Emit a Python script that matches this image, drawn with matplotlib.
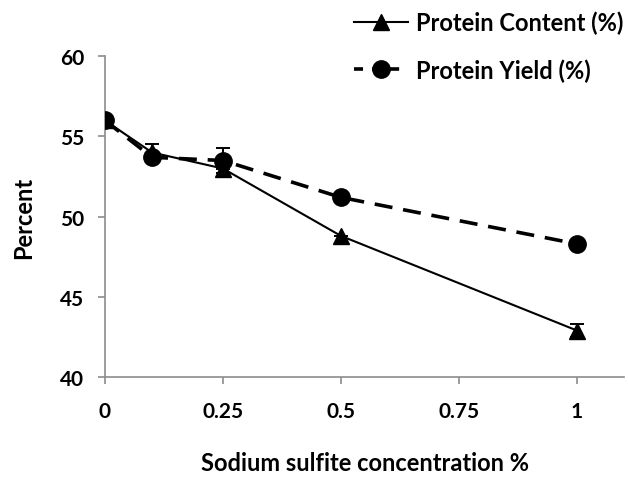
import matplotlib
matplotlib.use("Agg")
import matplotlib.pyplot as plt
from matplotlib.lines import Line2D

plt.rcParams['font.family'] = ['Lato', 'DejaVu Sans']

conc = [0, 0.1, 0.25, 0.5, 1.0]
protein_content = [56.0, 54.0, 53.0, 48.8, 42.9]
content_err = [0.0, 0.5, 0.0, 0.0, 0.4]
protein_yield = [56.0, 53.7, 53.5, 51.2, 48.3]
yield_err = [0.0, 0.0, 0.8, 0.0, 0.0]
x_ticks = [0, 0.25, 0.5, 0.75, 1]
x_tick_labels = ['0', '0.25', '0.5', '0.75', '1']
y_ticks = [40, 45, 50, 55, 60]

dash = (0, (5, 3))

fig = plt.figure(figsize=(6.28, 4.81), dpi=100)
ax = fig.add_axes([0.167, 0.214, 0.827, 0.667])

ax.errorbar(conc, protein_content, yerr=content_err, color='black', lw=1.5,
            marker='^', ms=11, capsize=5, elinewidth=1.4, capthick=1.4,
            label='Protein Content (%)', zorder=3)
ax.errorbar(conc, protein_yield, yerr=yield_err, color='black', lw=2.6,
            ls=dash, marker='o', ms=12.5, capsize=5, elinewidth=1.4,
            capthick=1.4, label='Protein Yield (%)', zorder=4)

ax.set_xlim(0, 1.1)
ax.set_ylim(40, 60)
ax.set_xticks(x_ticks)
ax.set_xticklabels(x_tick_labels)
ax.set_yticks(y_ticks)

for side in ('top', 'right'):
    ax.spines[side].set_visible(False)
for side in ('left', 'bottom'):
    ax.spines[side].set_color('#8c8c8c')
    ax.spines[side].set_linewidth(1.2)
ax.tick_params(axis='both', direction='out', length=5, width=1.2,
               color='#8c8c8c', labelsize=15)
ax.tick_params(axis='x', pad=12)
ax.tick_params(axis='y', pad=10)
for lab in ax.get_xticklabels() + ax.get_yticklabels():
    lab.set_fontweight('bold')

ax.set_xlabel('Sodium sulfite concentration %', fontsize=17, fontweight='bold', labelpad=22)
ax.set_ylabel('Percent', fontsize=17, fontweight='bold', labelpad=18)

handles = [
    Line2D([], [], color='black', lw=1.5, marker='^', ms=11),
    Line2D([], [], color='black', lw=2.6, ls=(0, (2.5, 2.5)), marker='o', ms=12.5),
]
fig.legend(handles, ['Protein Content (%)', 'Protein Yield (%)'],
           loc='upper left', bbox_to_anchor=(0.552, 0.99), frameon=False,
           prop={'weight': 'bold', 'size': 17}, handlelength=2.3,
           labelspacing=1.0, handletextpad=0.35, borderaxespad=0.1,
           borderpad=0.2)

fig.savefig('out.png', dpi=100)
